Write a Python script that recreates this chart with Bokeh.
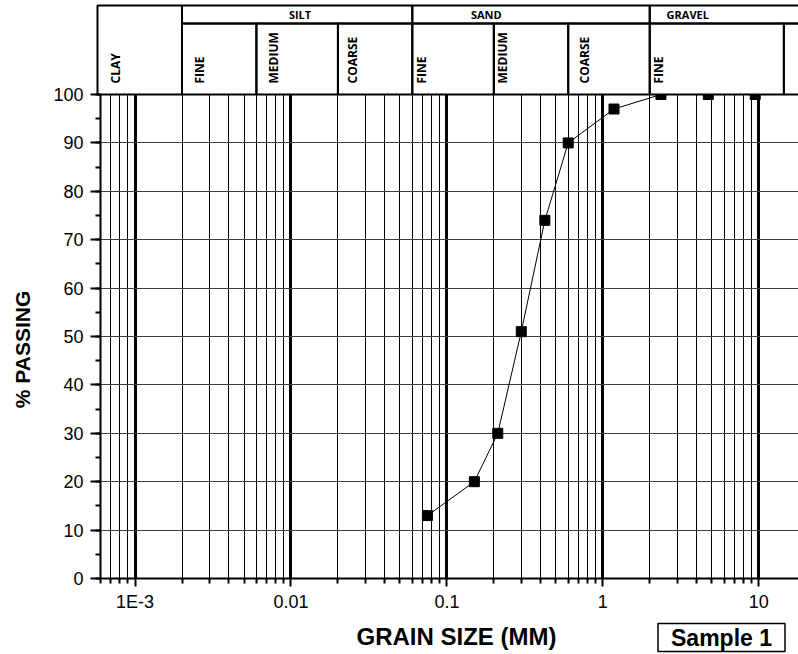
import math
from bokeh.plotting import figure
from bokeh.models import Range1d, FixedTicker, SingleIntervalTicker, Label, ColumnDataSource, Grid
from bokeh.embed import file_html
from bokeh.resources import INLINE
from bokeh.core.properties import value

# ---------------- data ----------------
grain_size_mm = [0.075, 0.15, 0.212, 0.3, 0.425, 0.6, 1.18, 2.36, 4.75, 9.5]
percent_passing = [13, 20, 30, 51, 74, 90, 97, 100, 100, 100]

x_ticks = [0.001, 0.01, 0.1, 1, 10]
x_tick_labels = ["1E-3", "0.01", "0.1", "1", "10"]

soil_groups = ["SILT", "SAND", "GRAVEL"]
group_bounds = [0.002, 0.06, 2.0]
sub_labels = ["CLAY", "FINE", "MEDIUM", "COARSE", "FINE", "MEDIUM", "COARSE", "FINE", ""]
sub_bounds = [0.002, 0.006, 0.02, 0.06, 0.2, 0.6, 2.0, 14.5]

sample_name = "Sample 1"
x_title = "GRAIN SIZE (MM)"
y_title = "% PASSING"

X_MIN, X_MAX = 0.0006, 18.0
Y_MIN, Y_MAX = 0, 100

# ---------------- layout (pixels) ----------------
W, H = 798, 654
AX_LEFT_PX = 100        # where the y axis sits
AX_BOTTOM_PX = 578      # where the x axis sits
Y_TOP_PX = 94           # where 100 % sits
HEADER_TOP_PX = 5
HEADER_SPLIT_PX = 23
HEADER_LEFT_SHIFT = 3
FONT = "Liberation Sans"
HFONT = "Open Sans"

ppu = (AX_BOTTOM_PX - Y_TOP_PX) / (Y_MAX - Y_MIN)
y_lo = Y_MIN - (H - AX_BOTTOM_PX) / ppu
y_hi = Y_MAX + Y_TOP_PX / ppu


def y_at(px):
    return Y_MAX + (Y_TOP_PX - px) / ppu


ppd = (W - AX_LEFT_PX) / (math.log10(X_MAX) - math.log10(X_MIN))
x_lo = 10 ** (math.log10(X_MIN) - AX_LEFT_PX / ppd)
header_left = 10 ** (math.log10(X_MIN) - HEADER_LEFT_SHIFT / ppd)
FAR_L, FAR_R = x_lo / 10, X_MAX * 10
header_top = y_at(HEADER_TOP_PX)
header_split = y_at(HEADER_SPLIT_PX)

p = figure(width=W, height=H, x_axis_type="log",
           x_range=Range1d(x_lo, X_MAX), y_range=Range1d(y_lo, y_hi),
           toolbar_location=None, output_backend="svg",
           min_border_left=0, min_border_right=0, min_border_top=0, min_border_bottom=0)
p.outline_line_color = None

# ---------------- axes ----------------
minor = [k * 10.0 ** e for e in range(-4, 2) for k in range(2, 10)]
minor = [m for m in minor if X_MIN * 0.999 <= m <= X_MAX]
xt = FixedTicker(ticks=x_ticks, minor_ticks=minor)
xa = p.xaxis[0]
ya = p.yaxis[0]
xa.ticker = xt
xa.major_label_overrides = dict(zip(x_ticks, x_tick_labels))
xa.fixed_location = Y_MIN
xa.bounds = (X_MIN, X_MAX)
ya.ticker = SingleIntervalTicker(interval=10, num_minor_ticks=2)
ya.fixed_location = X_MIN
ya.bounds = (Y_MIN, Y_MAX)

for ax in (xa, ya):
    ax.axis_line_width = 2
    ax.axis_line_color = "black"
    ax.major_tick_line_width = 2
    ax.minor_tick_line_width = 2
    ax.major_tick_in = 0
    ax.minor_tick_in = 0
    ax.major_label_text_font = FONT
    ax.major_label_text_font_size = "18px"
    ax.major_label_text_color = "black"
xa.major_tick_out = 8
xa.minor_tick_out = 5
xa.major_label_standoff = 5
ya.major_tick_out = 10
ya.minor_tick_out = 5
ya.major_label_standoff = 7

p.xgrid.ticker = xt
p.xgrid.bounds = (X_MIN, X_MAX)
p.xgrid.grid_line_color = "black"
p.xgrid.grid_line_width = 3
p.xgrid.minor_grid_line_color = "black"
p.xgrid.minor_grid_line_width = 1
p.ygrid.bounds = (Y_MIN, Y_MAX)
p.ygrid.grid_line_color = "#404040"
p.ygrid.grid_line_width = 1
if "cross_bounds" in Grid().properties():
    p.xgrid.cross_bounds = (Y_MIN, Y_MAX)
    p.ygrid.cross_bounds = (X_MIN, X_MAX)

# white covers outside the plotting area (hide grid lines there)
p.quad(left=[FAR_L, FAR_L], right=[X_MIN, FAR_R], bottom=[y_lo - 10, y_lo - 10],
       top=[y_hi + 10, Y_MIN], fill_color="white", line_color=None)

# ---------------- data ----------------
p.line(grain_size_mm, percent_passing, line_color="black", line_width=1)
p.scatter(grain_size_mm, percent_passing, marker="square", size=10,
          fill_color="black", line_color="black")

# ---------------- header table ----------------
p.quad(left=[header_left], right=[FAR_R], bottom=[Y_MAX], top=[y_hi + 10],
       fill_color="white", line_color=None)
sub_left = [header_left] + sub_bounds
sub_right = sub_bounds + [FAR_R]
sub_top = [header_top if i == 0 else header_split for i in range(len(sub_labels))]
p.quad(left=sub_left, right=sub_right, bottom=[Y_MAX] * len(sub_left), top=sub_top,
       fill_color=None, line_color="black", line_width=2)
grp_right = group_bounds[1:] + [FAR_R]
p.quad(left=group_bounds, right=grp_right, bottom=[header_split] * len(group_bounds),
       top=[header_top] * len(group_bounds),
       fill_color=None, line_color="black", line_width=2)

sub_src = ColumnDataSource(dict(x=sub_left, y=[Y_MAX] * len(sub_left), text=sub_labels,
                                xo=[17.5, 17, 17, 15, 9, 9, 16, 8.5, 0]))
p.text(x="x", y="y", text="text", source=sub_src, x_offset="xo", y_offset=-11,
       angle=math.pi / 2, text_align="left", text_baseline="middle",
       text_font=value(HFONT), text_font_style="bold", text_font_size="12px",
       text_color="black")
grp_src = ColumnDataSource(dict(x=group_bounds, y=[(header_top + header_split) / 2] * len(group_bounds),
                                text=soil_groups, xo=[118, 74, 38]))
p.text(x="x", y="y", text="text", source=grp_src, x_offset="xo",
       text_align="center", text_baseline="middle",
       text_font=value(HFONT), text_font_style="bold", text_font_size="11px",
       text_color="black")

# ---------------- titles ----------------
p.add_layout(Label(x=22, y=H - 349, x_units="screen", y_units="screen", text=y_title,
                   angle=math.pi / 2, text_align="center", text_baseline="middle",
                   text_font=FONT, text_font_style="bold", text_font_size="21px",
                   text_color="black"))
p.add_layout(Label(x=456, y=H - 636, x_units="screen", y_units="screen", text=x_title,
                   text_align="center", text_baseline="middle",
                   text_font=FONT, text_font_style="bold", text_font_size="24px",
                   text_color="black"))
# padding order here: (left, right, top, bottom)
p.add_layout(Label(x=721, y=H - 637, x_units="screen", y_units="screen", text=sample_name,
                   text_align="center", text_baseline="middle",
                   text_font=FONT, text_font_style="bold", text_font_size="23px",
                   text_color="black", padding=(13, 13, 1, 1),
                   border_line_color="black", border_line_width=1.5,
                   background_fill_color="white"))

open("out.html", "w").write(file_html(p, INLINE))
